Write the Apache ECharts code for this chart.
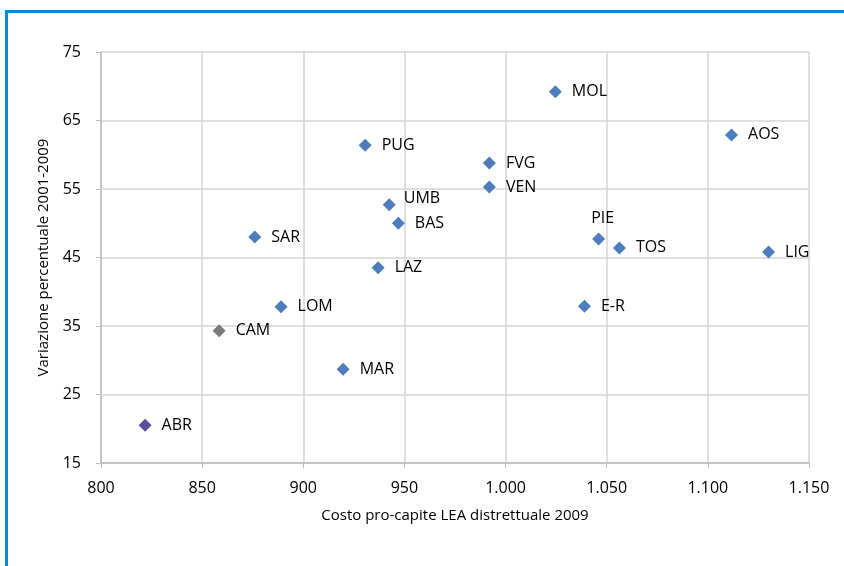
<!DOCTYPE html>
<html><head><meta charset="utf-8">
<script src="https://cdn.jsdelivr.net/npm/echarts@6/dist/echarts.min.js"></script>
<style>html,body{margin:0;padding:0;background:#fff}#c{width:844px;height:566px}</style>
</head><body><div id="c"></div>
<script>
const regions = ['ABR','CAM','LOM','SAR','MAR','LAZ','PUG','UMB','BAS','FVG','VEN','MOL','PIE','TOS','LIG','E-R','AOS'];
const costo = [821.8,858.4,889,876,919.7,937,930.6,942.5,947,992,992,1024.6,1046,1056.3,1130,1039,1111.7];
const variazione = [20.5,34.3,37.8,48.0,28.7,43.5,61.4,52.7,50.0,58.8,55.3,69.2,47.7,46.4,45.8,37.9,62.9];
const xTicks = {min:800, max:1150, interval:50};
const yTicks = {min:15, max:75, interval:10};

const colorFor = r => r==='ABR' ? '#5b4f99' : (r==='CAM' ? '#7a7a7a' : '#4d7dbb');
const labelPos = r => {
  if (r==='PIE') return {position:'top', distance:6, offset:[4,0]};
  if (r==='UMB') return {position:'right', distance:8, offset:[0,-6]};
  return {position:'right', distance:10};
};
const data = regions.map((r,i)=>({
  value:[costo[i], variazione[i]],
  name:r,
  itemStyle:{color:colorFor(r), opacity:1},
  label:Object.assign({show:true, formatter:r, color:'#000', fontSize:16, fontFamily:'Open Sans'}, labelPos(r))
}));
const fmt = v => v>=1000 ? Math.floor(v/1000)+'.'+String(v%1000).padStart(3,'0') : String(v);

const chart = echarts.init(document.getElementById('c'), null, {renderer:'canvas'});
chart.setOption({
  animation:false,
  backgroundColor:'#fff',
  graphic:[{type:'rect', shape:{x:6.5, y:11.5, width:900, height:700}, style:{fill:null, stroke:'#0a88d0', lineWidth:3}, silent:true}],
  grid:{left:101, right:35, top:52, bottom:103},
  xAxis:{type:'value', min:xTicks.min, max:xTicks.max, interval:xTicks.interval,
    name:'Costo pro-capite LEA distrettuale 2009', nameLocation:'middle', nameGap:45,
    nameTextStyle:{fontSize:15, fontFamily:'Open Sans', color:'#000'},
    axisLine:{show:true, lineStyle:{color:'#bdbdbd', width:1.5}},
    axisTick:{show:true, length:5, lineStyle:{color:'#bdbdbd'}},
    axisLabel:{fontSize:16, fontFamily:'Open Sans', color:'#000', margin:17, formatter:fmt},
    splitLine:{show:true, lineStyle:{color:'#d4d4d4', width:1.5}}},
  yAxis:{type:'value', min:yTicks.min, max:yTicks.max, interval:yTicks.interval,
    name:'Variazione percentuale 2001-2009', nameLocation:'middle', nameGap:50,
    nameTextStyle:{fontSize:15, fontFamily:'Open Sans', color:'#000'},
    axisLine:{show:true, lineStyle:{color:'#bdbdbd', width:1.5}},
    axisTick:{show:true, length:5, lineStyle:{color:'#bdbdbd'}},
    axisLabel:{fontSize:16, fontFamily:'Open Sans', color:'#000', margin:20},
    splitLine:{show:true, lineStyle:{color:'#d4d4d4', width:1.5}}},
  series:[{type:'scatter', symbol:'diamond', symbolSize:13, itemStyle:{opacity:1}, data:data}]
});
</script></body></html>
